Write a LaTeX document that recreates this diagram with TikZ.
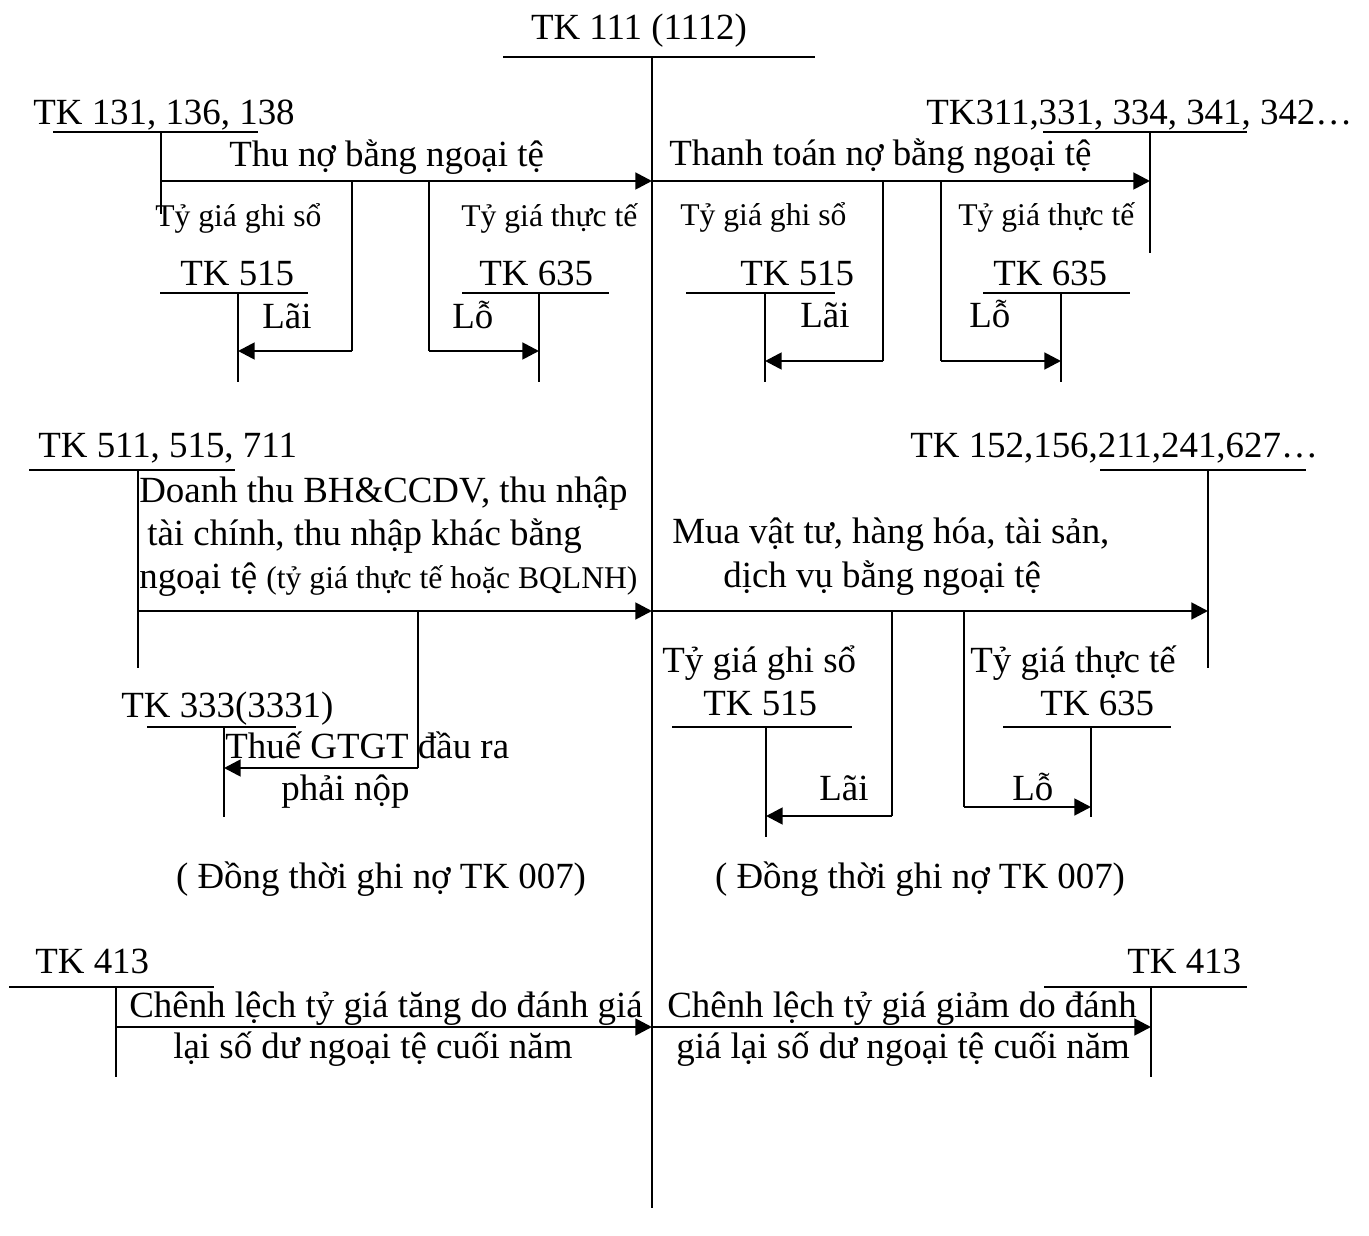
\documentclass[tikz,border=0pt]{standalone}
\usepackage{fontspec}
\setmainfont{Liberation Serif}
\usetikzlibrary{arrows.meta}
\tikzset{
  acct/.style={
    font=\fontsize{21}{25}\selectfont,
    inner sep=0pt,
    anchor=base west
  },
  rate/.style={
    font=\fontsize{18}{21}\selectfont,
    inner sep=0pt,
    anchor=base west
  },
  tline/.style={
    line width=1.3pt
  },
  stemline/.style={
    line width=0.9pt
  },
  flow/.style={
    -{Triangle[length=9.5pt,width=9.5pt]},
    line width=1.6pt
  }
}

\begin{document}
\begin{tikzpicture}[x=0.02cm,y=-0.02cm]
\useasboundingbox (0,0) rectangle (1369,1236);

% central account
\node[acct, anchor=base] (t111) at (639,40) {TK 111 (1112)};
\coordinate (u111l) at (503,57);
\coordinate (u111r) at (815,57);
\coordinate (s111t) at (652,57);
\coordinate (s111b) at (652,1208);
\coordinate (m1) at (652,181);
\coordinate (m2) at (652,611);
\coordinate (m3) at (652,1027);
\draw[tline] (u111l) -- (u111r);
\draw[stemline] (s111t) -- (s111b);

% row 1, left: thu no
\node[acct] (t131) at (33,125) {TK 131, 136, 138};
\node[acct] (lthu) at (229,167) {Thu nợ bằng ngoại tệ};
\node[rate] (lgs1) at (155,227) {Tỷ giá ghi sổ};
\node[rate] (ltt1) at (461,227) {Tỷ giá thực tế};
\node[acct] (t515a) at (180,286) {TK 515};
\node[acct] (t635a) at (479,286) {TK 635};
\node[acct] (llai1) at (262,329) {Lãi};
\node[acct] (llo1) at (452,329) {Lỗ};
\coordinate (u131l) at (53,132);
\coordinate (u131r) at (258,132);
\coordinate (s131t) at (161,132);
\coordinate (s131b) at (161,214);
\coordinate (f131) at (161,181);
\coordinate (b1a) at (352,181);
\coordinate (c1a) at (352,351);
\coordinate (e1a) at (238,351);
\coordinate (b1b) at (429,181);
\coordinate (c1b) at (429,351);
\coordinate (e1b) at (539,351);
\coordinate (u515al) at (160,293);
\coordinate (u515ar) at (308,293);
\coordinate (s515at) at (238,293);
\coordinate (s515ab) at (238,382);
\coordinate (u635al) at (462,293);
\coordinate (u635ar) at (609,293);
\coordinate (s635at) at (539,293);
\coordinate (s635ab) at (539,382);
\draw[tline] (u131l) -- (u131r);
\draw[stemline] (s131t) -- (s131b);
\draw[tline] (u515al) -- (u515ar);
\draw[stemline] (s515at) -- (s515ab);
\draw[tline] (u635al) -- (u635ar);
\draw[stemline] (s635at) -- (s635ab);
\draw[flow] (f131) -- (m1);
\draw[stemline] (b1a) -- (c1a);
\draw[flow] (c1a) -- (e1a);
\draw[stemline] (b1b) -- (c1b);
\draw[flow] (c1b) -- (e1b);

% row 1, right: thanh toan no
\node[acct] (t311) at (926,125) {TK311,331, 334, 341, 342…};
\node[acct] (rtt) at (669,166) {Thanh toán nợ bằng ngoại tệ};
\node[rate] (rgs1) at (680,226) {Tỷ giá ghi sổ};
\node[rate] (rtt1) at (958,226) {Tỷ giá thực tế};
\node[acct] (t515b) at (740,286) {TK 515};
\node[acct] (t635b) at (993,286) {TK 635};
\node[acct] (rlai1) at (800,328) {Lãi};
\node[acct] (rlo1) at (969,328) {Lỗ};
\coordinate (u311l) at (1043,132);
\coordinate (u311r) at (1247,132);
\coordinate (s311t) at (1150,132);
\coordinate (s311b) at (1150,253);
\coordinate (f311) at (1150,181);
\coordinate (b2a) at (883,181);
\coordinate (c2a) at (883,361);
\coordinate (e2a) at (765,361);
\coordinate (b2b) at (941,181);
\coordinate (c2b) at (941,361);
\coordinate (e2b) at (1061,361);
\coordinate (u515bl) at (686,293);
\coordinate (u515br) at (835,293);
\coordinate (s515bt) at (765,293);
\coordinate (s515bb) at (765,382);
\coordinate (u635bl) at (983,293);
\coordinate (u635br) at (1130,293);
\coordinate (s635bt) at (1061,293);
\coordinate (s635bb) at (1061,382);
\draw[tline] (u311l) -- (u311r);
\draw[stemline] (s311t) -- (s311b);
\draw[tline] (u515bl) -- (u515br);
\draw[stemline] (s515bt) -- (s515bb);
\draw[tline] (u635bl) -- (u635br);
\draw[stemline] (s635bt) -- (s635bb);
\draw[flow] (m1) -- (f311);
\draw[stemline] (b2a) -- (c2a);
\draw[flow] (c2a) -- (e2a);
\draw[stemline] (b2b) -- (c2b);
\draw[flow] (c2b) -- (e2b);

% row 2, left: doanh thu
\node[acct] (t511) at (38,458) {TK 511, 515, 711};
\node[acct] (ldt1) at (139,502) {Doanh thu BH\&CCDV, thu nhập};
\node[acct] (ldt2) at (147,545) {tài chính, thu nhập khác bằng};
\node[acct] (ldt3) at (139,588) {ngoại tệ {\fontsize{18}{21}\selectfont(tỷ giá thực tế hoặc BQLNH)}};
\node[acct] (t333) at (121,717) {TK 333(3331)};
\node[acct] (lvat1) at (225,758) {Thuế GTGT đầu ra};
\node[acct] (lvat2) at (281,800) {phải nộp};
\node[acct, anchor=base] (ldt007) at (381,888) {( Đồng thời ghi nợ TK 007)};
\coordinate (u511l) at (29,470);
\coordinate (u511r) at (235,470);
\coordinate (s511t) at (138,470);
\coordinate (s511b) at (138,668);
\coordinate (f511) at (138,611);
\coordinate (b3) at (418,611);
\coordinate (c3) at (418,768);
\coordinate (e3) at (224,768);
\coordinate (u333l) at (147,727);
\coordinate (u333r) at (296,727);
\coordinate (s333t) at (224,727);
\coordinate (s333b) at (224,817);
\draw[tline] (u511l) -- (u511r);
\draw[stemline] (s511t) -- (s511b);
\draw[tline] (u333l) -- (u333r);
\draw[stemline] (s333t) -- (s333b);
\draw[flow] (f511) -- (m2);
\draw[stemline] (b3) -- (c3);
\draw[flow] (c3) -- (e3);

% row 2, right: mua vat tu
\node[acct] (t152) at (910,458) {TK 152,156,211,241,627…};
\node[acct] (rmv1) at (672,543) {Mua vật tư, hàng hóa, tài sản,};
\node[acct] (rmv2) at (723,587) {dịch vụ bằng ngoại tệ};
\node[acct] (rgs2) at (662,672) {Tỷ giá ghi sổ};
\node[acct] (rtt2) at (970,672) {Tỷ giá thực tế};
\node[acct] (t515c) at (703,715) {TK 515};
\node[acct] (t635c) at (1040,715) {TK 635};
\node[acct] (rlai2) at (819,800) {Lãi};
\node[acct] (rlo2) at (1012,800) {Lỗ};
\node[acct, anchor=base] (rmv007) at (920,888) {( Đồng thời ghi nợ TK 007)};
\coordinate (u152l) at (1100,470);
\coordinate (u152r) at (1306,470);
\coordinate (s152t) at (1208,470);
\coordinate (s152b) at (1208,668);
\coordinate (f152) at (1208,611);
\coordinate (b4a) at (892,611);
\coordinate (c4a) at (892,816);
\coordinate (e4a) at (766,816);
\coordinate (b4b) at (964,611);
\coordinate (c4b) at (964,807);
\coordinate (e4b) at (1091,807);
\coordinate (u515cl) at (672,727);
\coordinate (u515cr) at (852,727);
\coordinate (s515ct) at (766,727);
\coordinate (s515cb) at (766,837);
\coordinate (u635cl) at (1003,727);
\coordinate (u635cr) at (1171,727);
\coordinate (s635ct) at (1091,727);
\coordinate (s635cb) at (1091,817);
\draw[tline] (u152l) -- (u152r);
\draw[stemline] (s152t) -- (s152b);
\draw[tline] (u515cl) -- (u515cr);
\draw[stemline] (s515ct) -- (s515cb);
\draw[tline] (u635cl) -- (u635cr);
\draw[stemline] (s635ct) -- (s635cb);
\draw[flow] (m2) -- (f152);
\draw[stemline] (b4a) -- (c4a);
\draw[flow] (c4a) -- (e4a);
\draw[stemline] (b4b) -- (c4b);
\draw[flow] (c4b) -- (e4b);

% row 3: chenh lech ty gia cuoi nam
\node[acct] (t413a) at (35,973) {TK 413};
\node[acct] (lcl1) at (129,1017) {Chênh lệch tỷ giá tăng do đánh giá};
\node[acct] (lcl2) at (173,1058) {lại số dư ngoại tệ cuối năm};
\node[acct] (t413b) at (1127,973) {TK 413};
\node[acct] (rcl1) at (667,1017) {Chênh lệch tỷ giá giảm do đánh};
\node[acct] (rcl2) at (676,1058) {giá lại số dư ngoại tệ cuối năm};
\coordinate (u413al) at (9,987);
\coordinate (u413ar) at (214,987);
\coordinate (s413at) at (116,987);
\coordinate (s413ab) at (116,1077);
\coordinate (f413a) at (116,1027);
\coordinate (u413bl) at (1044,987);
\coordinate (u413br) at (1247,987);
\coordinate (s413bt) at (1151,987);
\coordinate (s413bb) at (1151,1077);
\coordinate (f413b) at (1151,1027);
\draw[tline] (u413al) -- (u413ar);
\draw[stemline] (s413at) -- (s413ab);
\draw[tline] (u413bl) -- (u413br);
\draw[stemline] (s413bt) -- (s413bb);
\draw[flow] (f413a) -- (m3);
\draw[flow] (m3) -- (f413b);

\end{tikzpicture}
\end{document}
